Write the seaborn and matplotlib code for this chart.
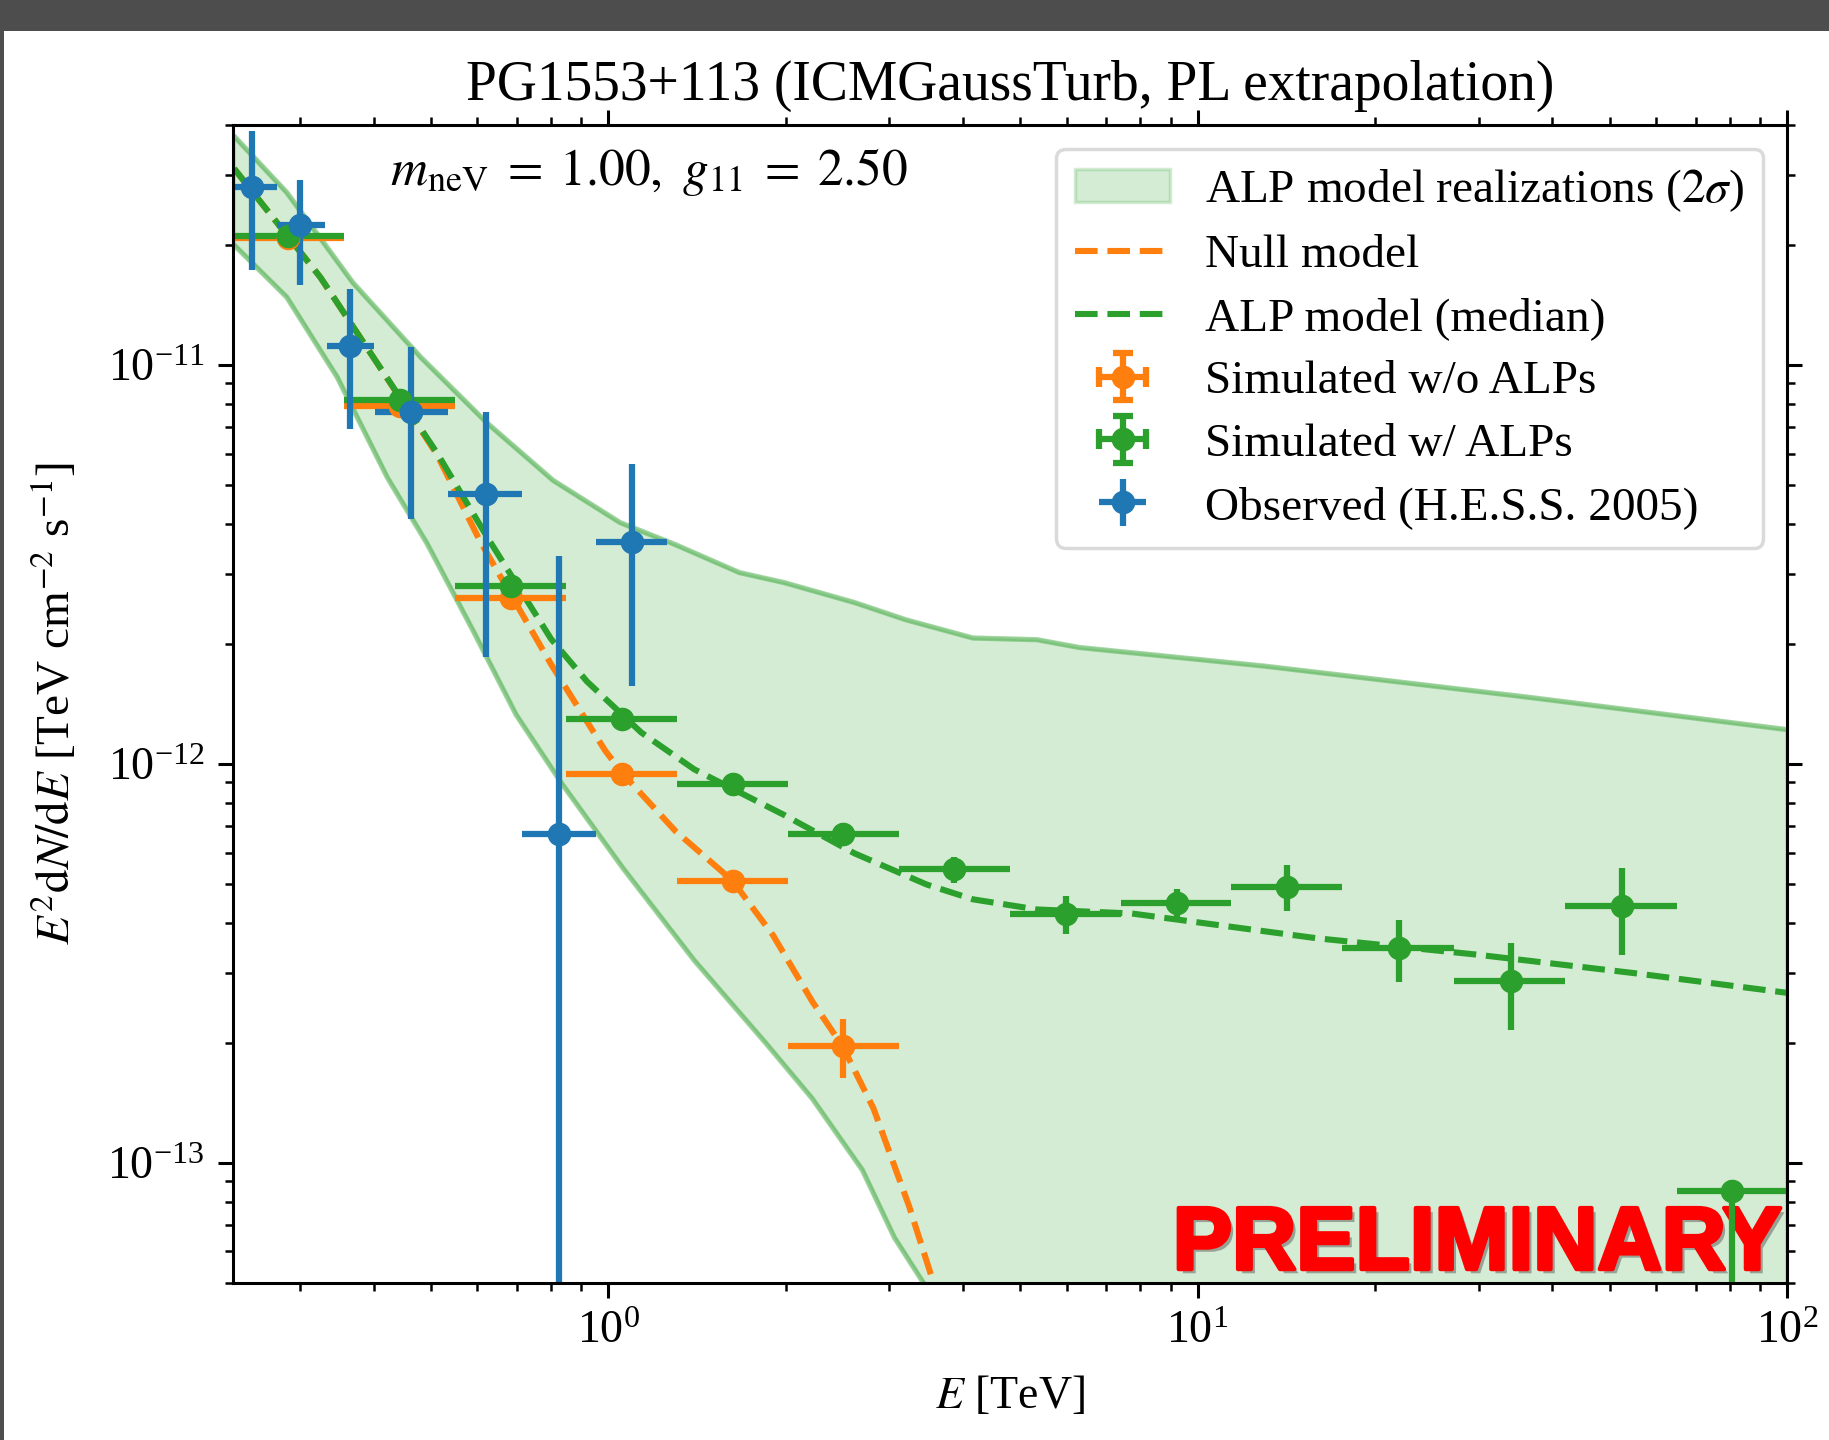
import numpy as np
import matplotlib
matplotlib.use("Agg")
import matplotlib.pyplot as plt
import matplotlib.patheffects as pe
from matplotlib.patches import Rectangle
import seaborn as sns

# Observed spectrum (H.E.S.S. 2005)
obs_E = [0.249, 0.300, 0.365, 0.463, 0.621, 0.826, 1.098]
obs_E_lo = [0.229, 0.274, 0.333, 0.403, 0.535, 0.715, 0.954]
obs_E_hi = [0.274, 0.331, 0.401, 0.535, 0.715, 0.954, 1.26]
obs_F = [2.80e-11, 2.25e-11, 1.12e-11, 7.62e-12, 4.74e-12, 6.67e-13, 3.61e-12]
obs_Ferr = [1.07e-11, 6.6e-12, 4.3e-12, 3.5e-12, 2.89e-12, 2.66e-12, 2.04e-12]

# Simulated spectra (energy bins)
sim_E = [0.286, 0.444, 0.685, 1.056, 1.626, 2.50, 3.86, 5.98, 9.23, 14.2, 22.0, 34.0, 52.4, 80.7]
sim_edges = [0.232, 0.357, 0.550, 0.849, 1.31, 2.02, 3.11, 4.80, 7.42, 11.4, 17.6, 27.2, 42.0, 65.0, 100.0]

# simulated without ALPs (first six bins)
null_F = [2.08e-11, 7.89e-12, 2.61e-12, 9.44e-13, 5.08e-13, 1.96e-13]
null_Ferr = [5e-13, 2e-13, 7e-14, 3e-14, 2.9e-14, 3.3e-14]

# simulated with ALPs
alp_F = [2.11e-11, 8.17e-12, 2.80e-12, 1.30e-12, 8.9e-13, 6.67e-13, 5.45e-13,
         4.20e-13, 4.48e-13, 4.93e-13, 3.45e-13, 2.86e-13, 4.40e-13, 8.5e-14]
alp_Ferr_lo = [5e-13, 2e-13, 8e-14, 3.5e-14, 3e-14, 4.5e-14, 4.1e-14,
               4.6e-14, 3.8e-14, 6.5e-14, 6.1e-14, 7.0e-14, 1.08e-13, 8.0e-14]
alp_Ferr_hi = [5e-13, 2e-13, 8e-14, 3.5e-14, 3e-14, 4.5e-14, 4.1e-14,
               4.6e-14, 3.8e-14, 6.5e-14, 6.1e-14, 7.0e-14, 1.08e-13, 5.5e-15]

# Null model curve
null_line_E = [0.232, 0.325, 0.406, 0.513, 0.607, 0.685, 0.800, 0.989, 1.056, 1.30,
               1.626, 1.905, 2.22, 2.50, 2.82, 3.24, 3.59, 3.80]
null_line_F = [3.11e-11, 1.66e-11, 1.01e-11, 5.95e-12, 3.61e-12, 2.65e-12, 1.78e-12,
               1.08e-12, 9.5e-13, 6.8e-13, 5.1e-13, 3.72e-13, 2.54e-13, 1.96e-13,
               1.37e-13, 7.8e-14, 4.85e-14, 3.5e-14]

# ALP model median curve
alp_line_E = [0.232, 0.325, 0.406, 0.513, 0.624, 0.800, 0.921, 1.138, 1.40, 1.99,
              2.62, 3.47, 4.16, 5.34, 7.74, 15.9, 29.7, 55.2, 100.0]
alp_line_F = [3.11e-11, 1.66e-11, 1.01e-11, 6.01e-12, 3.70e-12, 2.06e-12, 1.61e-12,
              1.20e-12, 9.7e-13, 7.45e-13, 5.97e-13, 4.99e-13, 4.58e-13, 4.32e-13,
              4.22e-13, 3.66e-13, 3.33e-13, 2.99e-13, 2.67e-13]

# 2 sigma band of ALP realizations
band_up_E = [0.232, 0.285, 0.369, 0.480, 0.624, 0.807, 1.048, 1.30, 1.67, 1.99,
             2.62, 3.2, 4.16, 5.34, 6.30, 13.0, 36.5, 100.0]
band_up_F = [3.75e-11, 2.71e-11, 1.61e-11, 1.05e-11, 7.15e-12, 5.14e-12, 4.03e-12,
             3.55e-12, 3.02e-12, 2.85e-12, 2.54e-12, 2.3e-12, 2.07e-12, 2.05e-12,
             1.96e-12, 1.76e-12, 1.47e-12, 1.22e-12]
band_lo_E = [0.232, 0.285, 0.347, 0.422, 0.493, 0.590, 0.698, 0.836, 1.06, 1.40,
             1.85, 2.22, 2.70, 3.06, 3.45, 3.7, 5.0, 10.0, 100.0]
band_lo_F = [2.00e-11, 1.48e-11, 9.33e-12, 5.23e-12, 3.57e-12, 2.16e-12, 1.33e-12,
             8.9e-13, 5.48e-13, 3.22e-13, 2.0e-13, 1.45e-13, 9.6e-14, 6.5e-14,
             4.93e-14, 3.5e-14, 1e-14, 3e-15, 1e-15]

sns.set_style("ticks", {"axes.edgecolor": "black", "xtick.color": "black",
                        "ytick.color": "black", "text.color": "black",
                        "axes.labelcolor": "black"})
plt.rcParams["font.family"] = ["Liberation Serif", "DejaVu Serif"]
plt.rcParams["mathtext.fontset"] = "stix"
plt.rcParams["font.size"] = 33

pal = sns.color_palette("tab10")
blue, orange, green = pal[0], pal[1], pal[2]

fig = plt.figure(figsize=(18.29, 14.40), dpi=100, facecolor="#4d4d4d")
fig.add_artist(Rectangle((4 / 1829, 0), 1, 1 - 31 / 1440, transform=fig.transFigure,
                         facecolor="white", edgecolor="none", zorder=-10))
ax = fig.add_axes([0.1274, 0.109, 0.8496, 0.8042])
ax.set_xscale("log")
ax.set_yscale("log")

# band
poly_E = np.r_[band_up_E, np.array(band_lo_E)[::-1]]
poly_F = np.r_[band_up_F, np.array(band_lo_F)[::-1]]
band = ax.fill(poly_E, poly_F, facecolor=green, edgecolor=green, alpha=0.2, lw=2.5,
               zorder=1)[0]
sns.lineplot(x=band_up_E, y=band_up_F, ax=ax, color=green, alpha=0.42, lw=3.8)
sns.lineplot(x=band_lo_E, y=band_lo_F, ax=ax, color=green, alpha=0.42, lw=3.8)

# model curves
sns.lineplot(x=null_line_E, y=null_line_F, ax=ax, color=orange, lw=4.4, linestyle="--")
null_line = ax.lines[-1]
sns.lineplot(x=alp_line_E, y=alp_line_F, ax=ax, color=green, lw=4.4, linestyle="--")
alp_line = ax.lines[-1]

# data points
sim_lo = np.array(sim_edges[:-1])
sim_hi = np.array(sim_edges[1:])
sim_E_arr = np.array(sim_E)
n_null = len(null_F)
pt_kw = dict(fmt="o", ms=16, elinewidth=4.5, capsize=0)
ax.errorbar(sim_E[:n_null], null_F,
            xerr=[sim_E_arr[:n_null] - sim_lo[:n_null], sim_hi[:n_null] - sim_E_arr[:n_null]],
            yerr=null_Ferr, color=orange, **pt_kw)
ax.errorbar(sim_E, alp_F, xerr=[sim_E_arr - sim_lo, sim_hi - sim_E_arr],
            yerr=[alp_Ferr_lo, alp_Ferr_hi], color=green, **pt_kw)
obs = ax.errorbar(obs_E, obs_F,
                  xerr=[np.array(obs_E) - np.array(obs_E_lo), np.array(obs_E_hi) - np.array(obs_E)],
                  yerr=obs_Ferr, color=blue, **pt_kw)

# legend proxies with caps
cap_kw = dict(fmt="o", ms=16, elinewidth=4.5, capsize=7, capthick=4.5)
h_null = ax.errorbar([np.nan], [np.nan], xerr=[[1.0], [1.0]], yerr=[[1.0], [1.0]],
                     color=orange, **cap_kw)
h_alp = ax.errorbar([np.nan], [np.nan], xerr=[[1.0], [1.0]], yerr=[[1.0], [1.0]],
                    color=green, **cap_kw)

ax.set_xlim(0.231, 100)
ax.set_ylim(5e-14, 4e-11)

ax.set_title("PG1553+113 (ICMGaussTurb, PL extrapolation)", fontsize=40, pad=18)
ax.set_xlabel(r"$E$ [TeV]", fontsize=33, labelpad=16)
ax.set_ylabel(r"$E^2\mathrm{d}N/\mathrm{d}E$ [TeV cm$^{-2}$ s$^{-1}$]", fontsize=34,
              labelpad=20)

ax.text(0.101, 0.948, r"$m_\mathrm{neV}\;=\;1.00,\ g_{11}\;=\;2.50$",
        transform=ax.transAxes, fontsize=37, ha="left", va="baseline")

ax.text(0.997, 0.012, "PRELIMINARY", transform=ax.transAxes, ha="right", va="baseline",
        fontsize=64, fontweight="bold", color="red",
        family=["Liberation Sans", "DejaVu Sans"], zorder=1.5,
        path_effects=[pe.SimplePatchShadow(offset=(3, -3), shadow_rgbFace="0.35", alpha=0.5),
                      pe.Stroke(linewidth=3, foreground="red"), pe.Normal()])

ax.tick_params(which="both", direction="out", top=True, right=True, width=2.2,
               labelsize=33, color="black")
ax.tick_params(which="major", length=10.5)
ax.tick_params(which="minor", length=5.5, width=1.8)
ax.tick_params(axis="x", which="major", pad=9)
ax.tick_params(axis="y", which="major", pad=10)
for s in ax.spines.values():
    s.set_linewidth(2.2)
    s.set_color("black")

leg = ax.legend([band, null_line, alp_line, h_null, h_alp, obs],
                ["ALP model realizations ($2\\sigma$)", "Null model", "ALP model (median)",
                 "Simulated w/o ALPs", "Simulated w/ ALPs", "Observed (H.E.S.S. 2005)"],
                loc="upper right", fontsize=34, labelspacing=0.42, handlelength=2.0,
                handletextpad=0.75, framealpha=0.8, fancybox=True)
leg.get_frame().set_edgecolor("0.82")
leg.get_frame().set_linewidth(2.5)

fig.savefig("out.png", dpi=100, facecolor=fig.get_facecolor())
